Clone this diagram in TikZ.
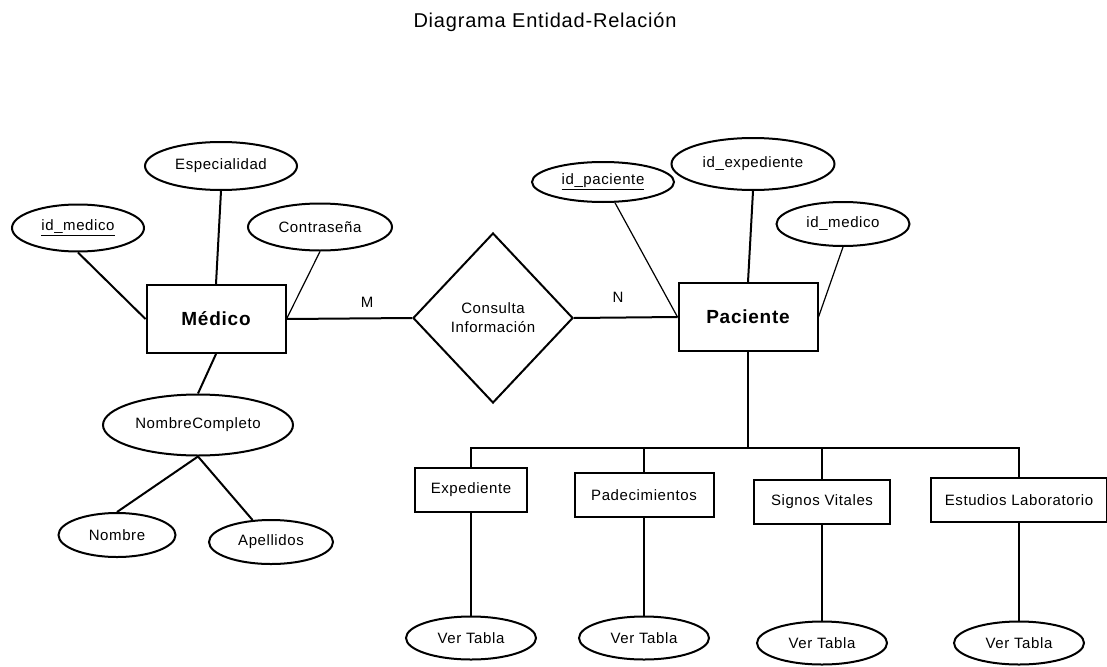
\documentclass[tikz,border=0pt]{standalone}
\usepackage{fontspec}
\setmainfont[LetterSpace=4]{Liberation Sans}
\usetikzlibrary{shapes.geometric}

\begin{document}
\begin{tikzpicture}[x=1pt, y=-1pt]
		\tikzstyle{Entity}	= [rectangle, draw, line width=2pt, inner sep=0pt, minimum width=139pt, minimum height=68pt, font=\fontsize{19}{22}\selectfont\bfseries]
		\tikzstyle{Attr}	= [ellipse, draw, line width=2pt, inner sep=0pt, font=\fontsize{15}{18}\selectfont]
		\tikzstyle{Table}	= [rectangle, draw, line width=2pt, inner sep=0pt, minimum height=44pt, font=\fontsize{15}{18}\selectfont]
		\tikzstyle{Rel}		= [diamond, draw, line width=2pt, inner sep=0pt, aspect=0.94, minimum width=160pt, minimum height=170pt, align=center, font=\fontsize{15}{19}\selectfont]
		\tikzstyle{Card}	= [font=\fontsize{15}{18}\selectfont]
		\tikzstyle{Link}	= [line width=2pt]
		\tikzstyle{Thin}	= [line width=1.2pt]

		\path[use as bounding box, fill=white] (0,0) rectangle (1107,666);

		\node (title) at (545,28) [anchor=base, font=\fontsize{20}{24}\selectfont] {Diagrama Entidad-Relación};

		% Medico
		\node (med) at (216,319) [Entity] {Médico};
		\node (esp) at (221,166) [Attr, minimum width=152pt, minimum height=48pt] {Especialidad};
		\node (idm) at (78,228) [Attr, minimum width=132pt, minimum height=47pt] {\underline{id\_medico}};
		\node (con) at (320,227) [Attr, minimum width=144pt, minimum height=47pt] {Contraseña};
		\node (nc) at (198,425) [Attr, minimum width=190pt, minimum height=61pt] {NombreCompleto};
		\node (nom) at (117,535) [Attr, minimum width=117pt, minimum height=44pt] {Nombre};
		\node (ape) at (271,542) [Attr, minimum width=124pt, minimum height=44pt] {Apellidos};

		% relacion
		\node (cons) at (493,318) [Rel] {Consulta\\Información};
		\node (m) at (367,302) [Card] {M};
		\node (n) at (618,297) [Card] {N};

		% Paciente
		\node (pac) at (748,317) [Entity] {Paciente};
		\node (idp) at (603,182) [Attr, minimum width=142pt, minimum height=40pt] {\underline{id\_paciente}};
		\node (ide) at (753,164) [Attr, minimum width=163pt, minimum height=52pt] {id\_expediente};
		\node (idm2) at (843,224) [Attr, minimum width=133pt, minimum height=44pt] {id\_medico};

		\node (exp) at (471,490) [Table, minimum width=112pt] {Expediente};
		\node (pad) at (644,495) [Table, minimum width=139pt] {Padecimientos};
		\node (sig) at (822,502) [Table, minimum width=136pt] {Signos Vitales};
		\node (est) at (1019,500) [Table, minimum width=176pt] {Estudios Laboratorio};

		\node (vt1) at (471,638) [Attr, minimum width=130pt, minimum height=43pt] {Ver Tabla};
		\node (vt2) at (644,638) [Attr, minimum width=130pt, minimum height=43pt] {Ver Tabla};
		\node (vt3) at (822,643) [Attr, minimum width=130pt, minimum height=43pt] {Ver Tabla};
		\node (vt4) at (1019,643) [Attr, minimum width=130pt, minimum height=43pt] {Ver Tabla};

		\draw (idm.south) to (med.west) [Link];
		\draw (esp.south) to (med.north) [Link];
		\draw (con.south) to (med.east) [Thin];
		\draw (med.south) to (nc.north) [Link];
		\draw (nc.south) to (nom.north) [Link];
		\draw (nc.south) to (ape.130) [Link];
		\draw (med.east) to (cons.west) [Link];
		\draw (cons.east) to (pac.west) [Link];

		\draw (idp.-60) to (pac.west) [Thin];
		\draw (ide.south) to (pac.north) [Link];
		\draw (idm2.south) to (pac.east) [Thin];

		\draw (pac.south) -- ++(0,96) coordinate (bus) [Link];
		\draw (exp.north) |- (bus) [Link];
		\draw (pad.north) |- (bus) [Link];
		\draw (sig.north) |- (bus) [Link];
		\draw (est.north) |- (bus) [Link];

		\draw (exp.south) to (vt1.north) [Link];
		\draw (pad.south) to (vt2.north) [Link];
		\draw (sig.south) to (vt3.north) [Link];
		\draw (est.south) to (vt4.north) [Link];
	\end{tikzpicture}
\end{document}
